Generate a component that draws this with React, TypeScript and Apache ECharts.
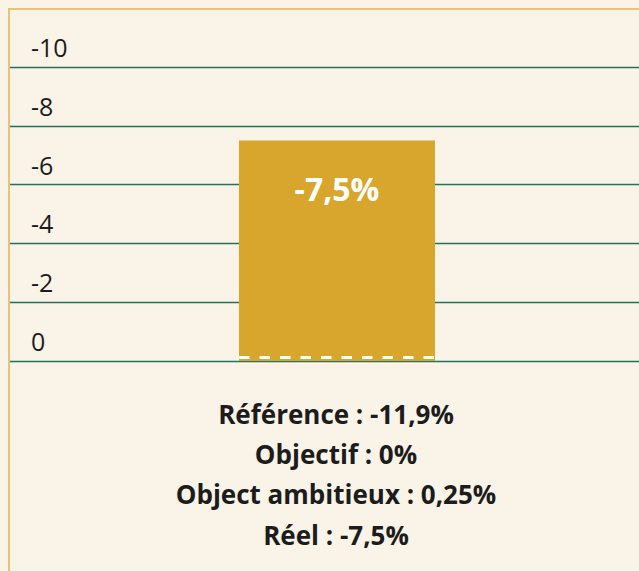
import React, { useEffect, useRef } from "react";
import * as echarts from "echarts";

const categories = ["Réel"];
const reelValues = [-7.5];
const objectifValue = 0;
const yTicks = { min: -10, max: 0, interval: 2 };
const summaryLines = [
  "Référence : -11,9%",
  "Objectif : 0%",
  "Object ambitieux : 0,25%",
  "Réel : -7,5%",
];

const BG = "#faf3e7";
const FONT = "'Open Sans', 'Noto Sans', sans-serif";

export default function App() {
  const ref = useRef<HTMLDivElement>(null);
  useEffect(() => {
    if (!ref.current) return;
    const chart = echarts.init(ref.current, undefined, { renderer: "svg" });
    const barWidth = 196;
    chart.setOption({
      animation: false,
      backgroundColor: BG,
      textStyle: { fontFamily: FONT },
      grid: { left: 0, right: 0, top: 57, height: 294, containLabel: false },
      xAxis: { type: "category", data: categories, show: false },
      yAxis: {
        type: "value",
        min: yTicks.min,
        max: yTicks.max,
        interval: yTicks.interval,
        inverse: true,
        axisLine: { show: false },
        axisTick: { show: false },
        splitLine: { show: true, lineStyle: { color: "#22725f", width: 1.3 } },
        axisLabel: {
          inside: true,
          margin: 21,
          align: "left",
          verticalAlign: "bottom",
          lineHeight: 40,
          showMinLabel: true,
          showMaxLabel: true,
          hideOverlap: false,
          color: "#1c1c1c",
          fontSize: 25,
          fontFamily: FONT,
        },
      },
      series: [
        {
          type: "bar",
          data: reelValues,
          barWidth,
          itemStyle: { color: "#d8a62c" },
          label: {
            show: true,
            position: "insideTop",
            distance: 32,
            formatter: (p: any) => String(p.value).replace(".", ",") + "%",
            color: "#ffffff",
            fontWeight: "bold",
            fontSize: 32,
            fontFamily: FONT,
          },
          z: 2,
        },
        {
          type: "custom",
          coordinateSystem: "cartesian2d",
          data: [[0, objectifValue]],
          encode: { x: 0, y: 1 },
          z: 5,
          renderItem: (params: any, api: any) => {
            const p = api.coord([api.value(0), api.value(1)]);
            const y = p[1] - 3.5;
            return {
              type: "line",
              shape: { x1: p[0] - barWidth / 2, y1: y, x2: p[0] + barWidth / 2, y2: y },
              style: { stroke: "#ffffff", lineWidth: 3, lineDash: [10.5, 10] },
            };
          },
        },
      ],
      graphic: summaryLines.map((t, i) => ({
        type: "text",
        x: 326,
        y: 404 + i * 40.2,
        style: {
          text: t,
          fontSize: 26,
          fontWeight: "bold",
          fontFamily: FONT,
          fill: "#1c1c1c",
          textAlign: "center",
          textVerticalAlign: "middle",
        },
      })),
    });
    return () => chart.dispose();
  }, []);

  return (
    <div style={{ position: "fixed", inset: 0, background: BG, overflow: "hidden" }}>
      <div
        style={{
          position: "absolute",
          left: 8,
          top: 8,
          right: 0,
          bottom: 0,
          overflow: "hidden",
          borderLeft: "2px solid #e6c57a",
          borderTop: "2px solid #e6c57a",
        }}
      >
        <div ref={ref} style={{ width: 654, height: 561 }} />
      </div>
    </div>
  );
}
